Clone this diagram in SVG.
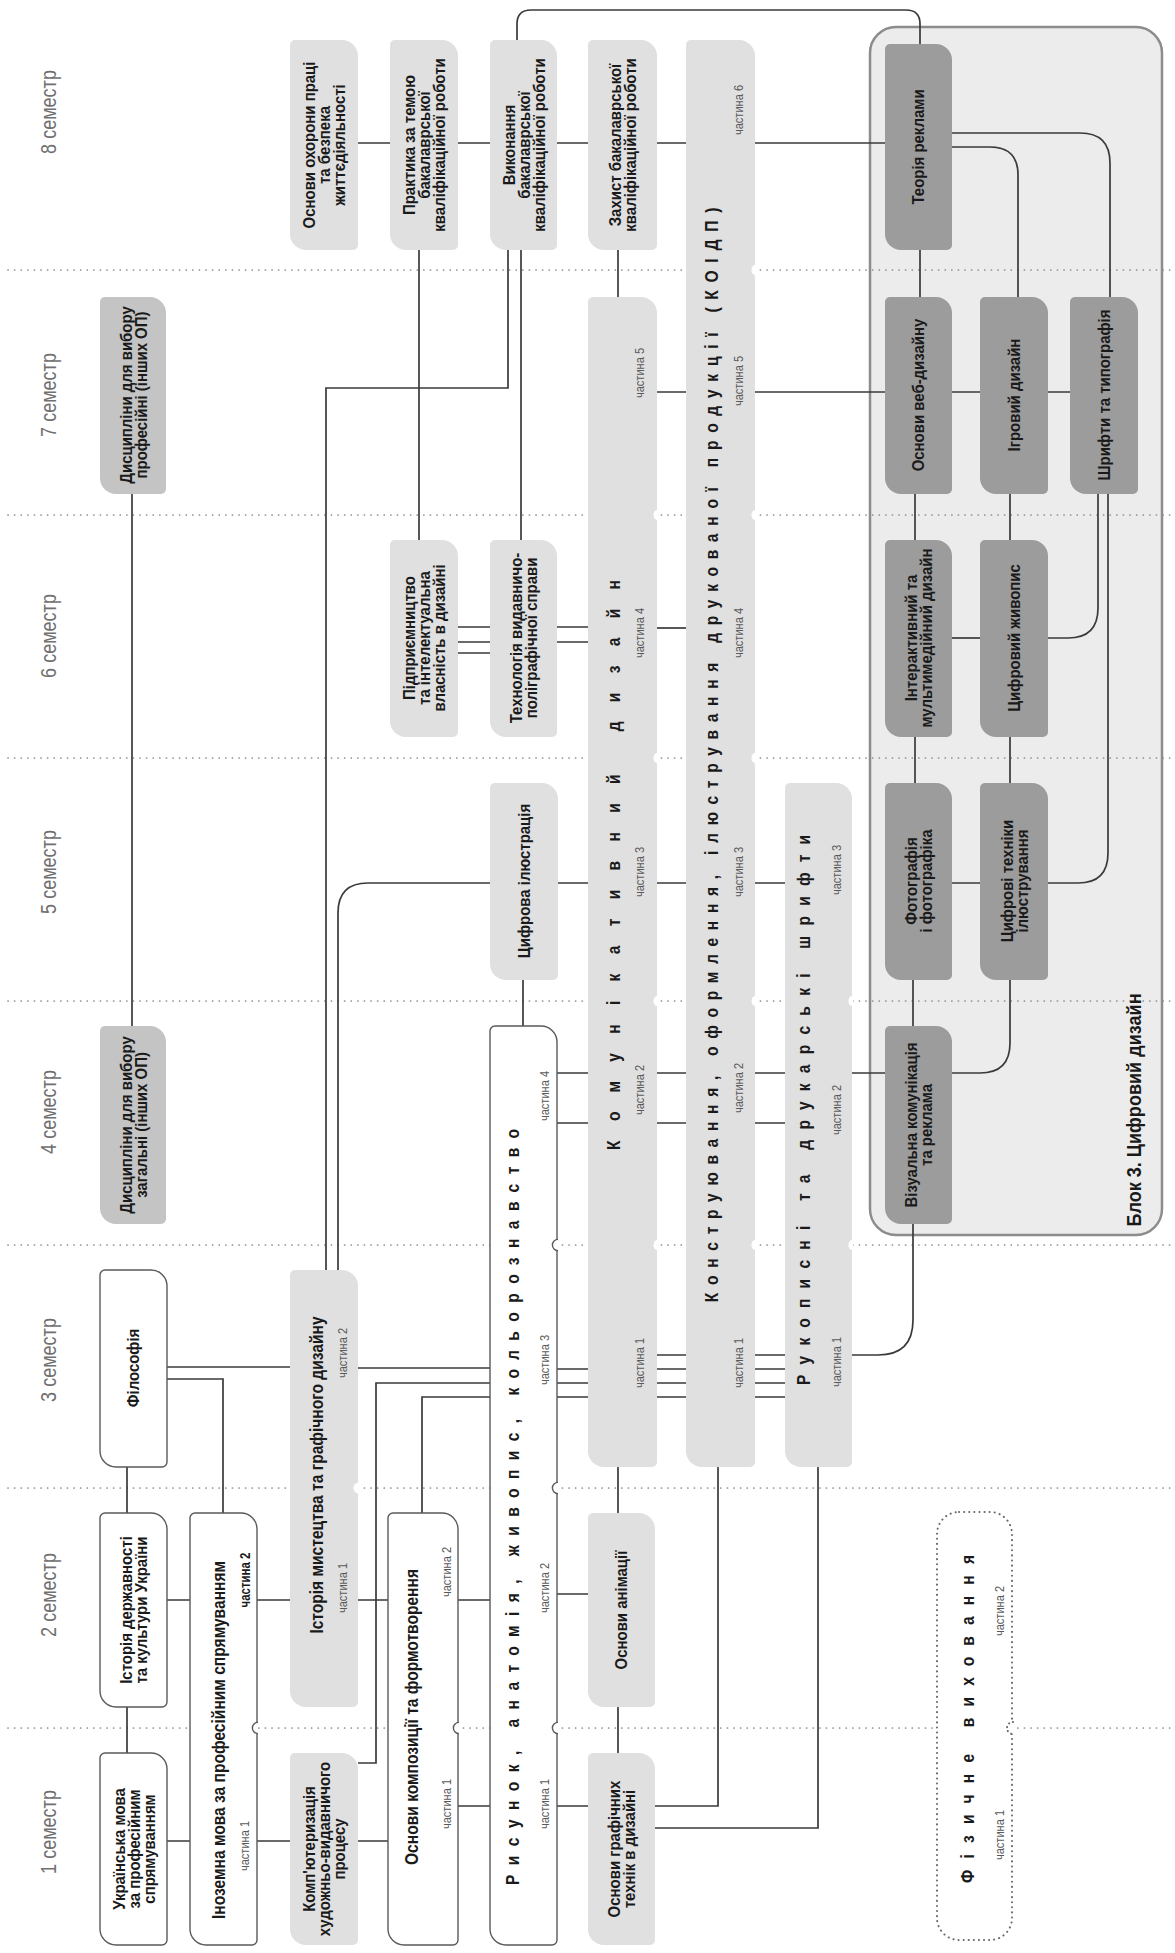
<svg xmlns="http://www.w3.org/2000/svg" width="1175" height="1953" viewBox="0 0 1175 1953">
<style>
.sep{stroke:#8a8a8a;stroke-width:1.7;stroke-dasharray:0.1 6.5;stroke-linecap:round;fill:none}
.ln{stroke:#3a3a3a;stroke-width:1.7;fill:none}
.bw{fill:#fff;stroke:#5a5a5a;stroke-width:1.4}
.bl{fill:#e0e0e0}
.bm{fill:#c4c4c4}
.bd{fill:#9c9c9c}
.cont{fill:#ececec;stroke:#8c8c8c;stroke-width:2.5}
.fz{fill:#fff;stroke:#666;stroke-width:2;stroke-dasharray:0.1 5;stroke-linecap:round}
.nt{fill:#fff}
.ntw{fill:#fff;stroke:#5a5a5a;stroke-width:1.4}
.ntf{fill:#fff;stroke:#666;stroke-width:2;stroke-dasharray:0.1 4;stroke-linecap:round}
text{font-family:"Liberation Sans",Arial,sans-serif;text-anchor:middle;dominant-baseline:central}
.t{font-weight:700;font-size:17px;fill:#1a1a1a}
.tt{font-weight:700;font-size:19px;fill:#1a1a1a}
.ls{font-weight:700;font-size:19px;fill:#1a1a1a}
.ch{font-weight:400;font-size:13.5px;fill:#5a5a5a}
.chb{font-weight:700;font-size:14px;fill:#1a1a1a}
.sem{font-weight:400;font-size:22px;fill:#707070}
.blk{font-weight:700;font-size:21px;fill:#1a1a1a}
</style>

<rect id="block3" class="cont" x="870" y="27" width="292" height="1208" rx="26"/>

<g id="separators">
<path class="sep" d="M8,270H1175M8,515H1175M8,758H1175M8,1001H1175M8,1245H1175M8,1488H1175M8,1728H1175"/>
</g>

<g id="semesters">
<text class="sem" transform="translate(48,112) rotate(-90) scale(.82,1)">8 семестр</text>
<text class="sem" transform="translate(48,395) rotate(-90) scale(.82,1)">7 семестр</text>
<text class="sem" transform="translate(48,636) rotate(-90) scale(.82,1)">6 семестр</text>
<text class="sem" transform="translate(48,872) rotate(-90) scale(.82,1)">5 семестр</text>
<text class="sem" transform="translate(48,1112) rotate(-90) scale(.82,1)">4 семестр</text>
<text class="sem" transform="translate(48,1360) rotate(-90) scale(.82,1)">3 семестр</text>
<text class="sem" transform="translate(48,1595) rotate(-90) scale(.82,1)">2 семестр</text>
<text class="sem" transform="translate(48,1832) rotate(-90) scale(.82,1)">1 семестр</text>
</g>

<g id="connectors">
<path class="ln" d="M358,143H390M458,143H490M557,143H588M657,143H686M755,143H885"/>
<path class="ln" d="M419,250V540"/>
<path class="ln" d="M508,250V388H326V1270"/>
<path class="ln" d="M521,250V540"/>
<path class="ln" d="M618,250V297"/>
<path class="ln" d="M517,40V24Q517,10 531,10H906Q920,10 920,24V44"/>
<path class="ln" d="M920,250V297"/>
<path class="ln" d="M952,133H1080Q1110,133 1110,163V297"/>
<path class="ln" d="M952,147H990Q1018,147 1018,175V297"/>
<path class="ln" d="M132,494V1026"/>
<path class="ln" d="M657,392H686M755,392H885M952,392H980M1048,392H1070"/>
<path class="ln" d="M915,494V540M1010,494V540"/>
<path class="ln" d="M1098,494V608Q1098,638 1068,638H1048"/>
<path class="ln" d="M1108,494V853Q1108,883 1078,883H1048"/>
<path class="ln" d="M458,627H490M458,642H490M458,653H490"/>
<path class="ln" d="M557,627H588M557,642H588"/>
<path class="ln" d="M657,628H686"/>
<path class="ln" d="M952,638H980"/>
<path class="ln" d="M915,737V783M1010,737V783"/>
<path class="ln" d="M490,883H368Q338,883 338,913V1270"/>
<path class="ln" d="M558,883H588M657,883H686M755,883H785M952,883H980"/>
<path class="ln" d="M523,980V1026M913,980V1026"/>
<path class="ln" d="M1010,980V1043Q1010,1073 980,1073H952"/>
<path class="ln" d="M557,1073H588M557,1123H588M657,1073H686M657,1123H686M755,1073H785M755,1123H785M852,1073H885"/>
<path class="ln" d="M913,1224V1320Q913,1355 878,1355H852"/>
<path class="ln" d="M167,1367H290"/>
<path class="ln" d="M167,1379H223V1513"/>
<path class="ln" d="M358,1368H490"/>
<path class="ln" d="M358,1763H376V1383H490"/>
<path class="ln" d="M422,1513V1397H490"/>
<path class="ln" d="M557,1369H588M557,1383H588M557,1397H588"/>
<path class="ln" d="M657,1355H686M657,1369H686M657,1383H686M657,1397H686"/>
<path class="ln" d="M755,1355H785M755,1369H785M755,1383H785M755,1397H785"/>
<path class="ln" d="M618,1467V1513M127,1467V1513"/>
<path class="ln" d="M718,1467V1806H655"/>
<path class="ln" d="M818,1467V1828H655"/>
<path class="ln" d="M167,1600H190M257,1600H290M358,1600H388M458,1600H490M557,1594H588"/>
<path class="ln" d="M127,1707V1753M618,1707V1753"/>
<path class="ln" d="M167,1841H190M257,1841H290M358,1841H388M458,1806H490M557,1806H588"/>
</g>

<g id="ohorona"><path class="bl" d="M295,40H342A16,16 0 0 1 358,56V245A5,5 0 0 1 353,250H306A16,16 0 0 1 290,234V45A5,5 0 0 1 295,40Z"/>
<text class="t" transform="translate(324,145) rotate(-90) scale(.88,1)"><tspan x="0" y="-15">Основи охорони праці</tspan><tspan x="0" y="0">та безпека</tspan><tspan x="0" y="15">життєдіяльності</tspan></text></g>

<g id="praktyka"><path class="bl" d="M395,40H442A16,16 0 0 1 458,56V245A5,5 0 0 1 453,250H406A16,16 0 0 1 390,234V45A5,5 0 0 1 395,40Z"/>
<text class="t" transform="translate(424,145) rotate(-90) scale(.88,1)"><tspan x="0" y="-15">Практика за темою</tspan><tspan x="0" y="0">бакалаврської</tspan><tspan x="0" y="15">кваліфікаційної роботи</tspan></text></g>

<g id="vykonannia"><path class="bl" d="M495,40H541A16,16 0 0 1 557,56V245A5,5 0 0 1 552,250H506A16,16 0 0 1 490,234V45A5,5 0 0 1 495,40Z"/>
<text class="t" transform="translate(523.5,145) rotate(-90) scale(.88,1)"><tspan x="0" y="-15">Виконання</tspan><tspan x="0" y="0">бакалаврської</tspan><tspan x="0" y="15">кваліфікаційної роботи</tspan></text></g>

<g id="zakhyst"><path class="bl" d="M593,40H641A16,16 0 0 1 657,56V245A5,5 0 0 1 652,250H604A16,16 0 0 1 588,234V45A5,5 0 0 1 593,40Z"/>
<text class="t" transform="translate(622.5,145) rotate(-90) scale(.88,1)"><tspan x="0" y="-7.5">Захист бакалаврської</tspan><tspan x="0" y="7.5">кваліфікаційної роботи</tspan></text></g>

<g id="koidp"><path class="bl" d="M691,40H739A16,16 0 0 1 755,56V1462A5,5 0 0 1 750,1467H702A16,16 0 0 1 686,1451V45A5,5 0 0 1 691,40Z"/>
<path class="nt" d="M756,264.5A5.6,5.6 0 0 0 756,275.5M756,509.5A5.6,5.6 0 0 0 756,520.5M756,752.5A5.6,5.6 0 0 0 756,763.5M756,995.5A5.6,5.6 0 0 0 756,1006.5M756,1239.5A5.6,5.6 0 0 0 756,1250.5"/>
<text class="ls" transform="translate(711,755) rotate(-90) scale(.82,1)" textLength="1335" lengthAdjust="spacing">Конструювання, оформлення, ілюстрування друкованої продукції (КОІДП)</text>
<text class="ch" transform="translate(739,110) rotate(-90) scale(.82,1)">частина 6</text>
<text class="ch" transform="translate(739,381) rotate(-90) scale(.82,1)">частина 5</text>
<text class="ch" transform="translate(739,633) rotate(-90) scale(.82,1)">частина 4</text>
<text class="ch" transform="translate(739,872) rotate(-90) scale(.82,1)">частина 3</text>
<text class="ch" transform="translate(739,1088) rotate(-90) scale(.82,1)">частина 2</text>
<text class="ch" transform="translate(739,1363) rotate(-90) scale(.82,1)">частина 1</text></g>

<g id="teoria"><path class="bd" d="M890,44H936A16,16 0 0 1 952,60V245A5,5 0 0 1 947,250H901A16,16 0 0 1 885,234V49A5,5 0 0 1 890,44Z"/>
<text class="t" transform="translate(918.5,147) rotate(-90) scale(.88,1)">Теорія реклами</text></g>

<g id="dysc_prof"><path class="bm" d="M105,297H150A16,16 0 0 1 166,313V489A5,5 0 0 1 161,494H116A16,16 0 0 1 100,478V302A5,5 0 0 1 105,297Z"/>
<text class="t" transform="translate(133,395) rotate(-90) scale(.88,1)"><tspan x="0" y="-7.5">Дисципліни для вибору</tspan><tspan x="0" y="7.5">професійні (інших ОП)</tspan></text></g>

<g id="komunik"><path class="bl" d="M593,297H641A16,16 0 0 1 657,313V1462A5,5 0 0 1 652,1467H604A16,16 0 0 1 588,1451V302A5,5 0 0 1 593,297Z"/>
<path class="nt" d="M658,509.5A5.6,5.6 0 0 0 658,520.5M658,752.5A5.6,5.6 0 0 0 658,763.5M658,995.5A5.6,5.6 0 0 0 658,1006.5M658,1239.5A5.6,5.6 0 0 0 658,1250.5"/>
<text class="ls" transform="translate(613,865) rotate(-90) scale(.82,1)" textLength="695" lengthAdjust="spacing">Комунікативний дизайн</text>
<text class="ch" transform="translate(640,373) rotate(-90) scale(.82,1)">частина 5</text>
<text class="ch" transform="translate(640,633) rotate(-90) scale(.82,1)">частина 4</text>
<text class="ch" transform="translate(640,872) rotate(-90) scale(.82,1)">частина 3</text>
<text class="ch" transform="translate(640,1090) rotate(-90) scale(.82,1)">частина 2</text>
<text class="ch" transform="translate(640,1363) rotate(-90) scale(.82,1)">частина 1</text></g>

<g id="veb"><path class="bd" d="M890,297H936A16,16 0 0 1 952,313V489A5,5 0 0 1 947,494H901A16,16 0 0 1 885,478V302A5,5 0 0 1 890,297Z"/>
<text class="t" transform="translate(918.5,395) rotate(-90) scale(.88,1)">Основи веб-дизайну</text></g>

<g id="igrovyi"><path class="bd" d="M985,297H1032A16,16 0 0 1 1048,313V489A5,5 0 0 1 1043,494H996A16,16 0 0 1 980,478V302A5,5 0 0 1 985,297Z"/>
<text class="t" transform="translate(1014,395) rotate(-90) scale(.88,1)">Ігровий дизайн</text></g>

<g id="shryfty"><path class="bd" d="M1075,297H1122A16,16 0 0 1 1138,313V489A5,5 0 0 1 1133,494H1086A16,16 0 0 1 1070,478V302A5,5 0 0 1 1075,297Z"/>
<text class="t" transform="translate(1104,395) rotate(-90) scale(.88,1)">Шрифти та типографія</text></g>

<g id="pidpryiem"><path class="bl" d="M395,540H442A16,16 0 0 1 458,556V732A5,5 0 0 1 453,737H406A16,16 0 0 1 390,721V545A5,5 0 0 1 395,540Z"/>
<text class="t" transform="translate(424,638) rotate(-90) scale(.88,1)"><tspan x="0" y="-15">Підприємництво</tspan><tspan x="0" y="0">та інтелектуальна</tspan><tspan x="0" y="15">власність в дизайні</tspan></text></g>

<g id="tekhnol"><path class="bl" d="M495,540H541A16,16 0 0 1 557,556V732A5,5 0 0 1 552,737H506A16,16 0 0 1 490,721V545A5,5 0 0 1 495,540Z"/>
<text class="t" transform="translate(523.5,638) rotate(-90) scale(.88,1)"><tspan x="0" y="-7.5">Технологія видавничо-</tspan><tspan x="0" y="7.5">поліграфічної справи</tspan></text></g>

<g id="interakt"><path class="bd" d="M890,540H936A16,16 0 0 1 952,556V732A5,5 0 0 1 947,737H901A16,16 0 0 1 885,721V545A5,5 0 0 1 890,540Z"/>
<text class="t" transform="translate(918.5,638) rotate(-90) scale(.88,1)"><tspan x="0" y="-7.5">Інтерактивний та</tspan><tspan x="0" y="7.5">мультимедійний дизайн</tspan></text></g>

<g id="zhyvopys"><path class="bd" d="M985,540H1032A16,16 0 0 1 1048,556V732A5,5 0 0 1 1043,737H996A16,16 0 0 1 980,721V545A5,5 0 0 1 985,540Z"/>
<text class="t" transform="translate(1014,638) rotate(-90) scale(.88,1)">Цифровий живопис</text></g>

<g id="tsyfr_ilustr"><path class="bl" d="M495,783H542A16,16 0 0 1 558,799V975A5,5 0 0 1 553,980H506A16,16 0 0 1 490,964V788A5,5 0 0 1 495,783Z"/>
<text class="t" transform="translate(524,881) rotate(-90) scale(.88,1)">Цифрова ілюстрація</text></g>

<g id="rukopysni"><path class="bl" d="M790,783H836A16,16 0 0 1 852,799V1462A5,5 0 0 1 847,1467H801A16,16 0 0 1 785,1451V788A5,5 0 0 1 790,783Z"/>
<path class="nt" d="M853,995.5A5.6,5.6 0 0 0 853,1006.5M853,1239.5A5.6,5.6 0 0 0 853,1250.5"/>
<text class="ls" transform="translate(803,1110) rotate(-90) scale(.82,1)" textLength="671" lengthAdjust="spacing">Рукописні та друкарські шрифти</text>
<text class="ch" transform="translate(837,870) rotate(-90) scale(.82,1)">частина 3</text>
<text class="ch" transform="translate(837,1110) rotate(-90) scale(.82,1)">частина 2</text>
<text class="ch" transform="translate(837,1362) rotate(-90) scale(.82,1)">частина 1</text></g>

<g id="foto"><path class="bd" d="M890,783H936A16,16 0 0 1 952,799V975A5,5 0 0 1 947,980H901A16,16 0 0 1 885,964V788A5,5 0 0 1 890,783Z"/>
<text class="t" transform="translate(918.5,881) rotate(-90) scale(.88,1)"><tspan x="0" y="-7.5">Фотографія</tspan><tspan x="0" y="7.5">і фотографіка</tspan></text></g>

<g id="tekhniky"><path class="bd" d="M985,783H1032A16,16 0 0 1 1048,799V975A5,5 0 0 1 1043,980H996A16,16 0 0 1 980,964V788A5,5 0 0 1 985,783Z"/>
<text class="t" transform="translate(1014,881) rotate(-90) scale(.88,1)"><tspan x="0" y="-7.5">Цифрові техніки</tspan><tspan x="0" y="7.5">ілюстрування</tspan></text></g>

<g id="dysc_zag"><path class="bm" d="M105,1026H150A16,16 0 0 1 166,1042V1219A5,5 0 0 1 161,1224H116A16,16 0 0 1 100,1208V1031A5,5 0 0 1 105,1026Z"/>
<text class="t" transform="translate(133,1125) rotate(-90) scale(.88,1)"><tspan x="0" y="-7.5">Дисципліни для вибору</tspan><tspan x="0" y="7.5">загальні (інших ОП)</tspan></text></g>

<g id="rysunok"><path class="bw" d="M495,1026H541A16,16 0 0 1 557,1042V1940A5,5 0 0 1 552,1945H506A16,16 0 0 1 490,1929V1031A5,5 0 0 1 495,1026Z"/>
<path class="ntw" d="M558,1239.4A5.6,5.6 0 0 0 558,1250.6M558,1482.4A5.6,5.6 0 0 0 558,1493.6M558,1722.4A5.6,5.6 0 0 0 558,1733.6"/>
<text class="ls" transform="translate(512,1507) rotate(-90) scale(.82,1)" textLength="922" lengthAdjust="spacing">Рисунок, анатомія, живопис, кольорознавство</text>
<text class="ch" transform="translate(545,1096) rotate(-90) scale(.82,1)">частина 4</text>
<text class="ch" transform="translate(545,1360) rotate(-90) scale(.82,1)">частина 3</text>
<text class="ch" transform="translate(545,1588) rotate(-90) scale(.82,1)">частина 2</text>
<text class="ch" transform="translate(545,1804) rotate(-90) scale(.82,1)">частина 1</text></g>

<g id="vizualna"><path class="bd" d="M890,1026H936A16,16 0 0 1 952,1042V1219A5,5 0 0 1 947,1224H901A16,16 0 0 1 885,1208V1031A5,5 0 0 1 890,1026Z"/>
<text class="t" transform="translate(918.5,1125) rotate(-90) scale(.88,1)"><tspan x="0" y="-7.5">Візуальна комунікація</tspan><tspan x="0" y="7.5">та реклама</tspan></text></g>

<g id="filosofia"><path class="bw" d="M105,1270H151A16,16 0 0 1 167,1286V1462A5,5 0 0 1 162,1467H116A16,16 0 0 1 100,1451V1275A5,5 0 0 1 105,1270Z"/>
<text class="t" transform="translate(133.5,1368) rotate(-90) scale(.88,1)">Філософія</text></g>

<g id="istoria_myst"><path class="bl" d="M295,1270H342A16,16 0 0 1 358,1286V1702A5,5 0 0 1 353,1707H306A16,16 0 0 1 290,1691V1275A5,5 0 0 1 295,1270Z"/>
<path class="nt" d="M359,1482.4A5.6,5.6 0 0 0 359,1493.6"/>
<text class="tt" transform="translate(316,1475) rotate(-90) scale(.82,1)">Історія мистецтва та графічного дизайну</text>
<text class="ch" transform="translate(343,1353) rotate(-90) scale(.82,1)">частина 2</text>
<text class="ch" transform="translate(343,1588) rotate(-90) scale(.82,1)">частина 1</text></g>

<g id="istoria_derzh"><path class="bw" d="M105,1513H151A16,16 0 0 1 167,1529V1702A5,5 0 0 1 162,1707H116A16,16 0 0 1 100,1691V1518A5,5 0 0 1 105,1513Z"/>
<text class="t" transform="translate(133.5,1610) rotate(-90) scale(.88,1)"><tspan x="0" y="-7.5">Історія державності</tspan><tspan x="0" y="7.5">та культури України</tspan></text></g>

<g id="inozemna"><path class="bw" d="M195,1513H241A16,16 0 0 1 257,1529V1940A5,5 0 0 1 252,1945H206A16,16 0 0 1 190,1929V1518A5,5 0 0 1 195,1513Z"/>
<path class="ntw" d="M258,1722.4A5.6,5.6 0 0 0 258,1733.6"/>
<text class="tt" transform="translate(218,1740) rotate(-90) scale(.82,1)">Іноземна мова за професійним спрямуванням</text>
<text class="chb" transform="translate(245,1580) rotate(-90) scale(.82,1)">частина 2</text>
<text class="ch" transform="translate(245,1846) rotate(-90) scale(.82,1)">частина 1</text></g>

<g id="kompozytsia"><path class="bw" d="M393,1513H442A16,16 0 0 1 458,1529V1940A5,5 0 0 1 453,1945H404A16,16 0 0 1 388,1929V1518A5,5 0 0 1 393,1513Z"/>
<path class="ntw" d="M459,1722.4A5.6,5.6 0 0 0 459,1733.6"/>
<text class="tt" transform="translate(411,1717) rotate(-90) scale(.82,1)">Основи композиції та формотворення</text>
<text class="ch" transform="translate(447,1572) rotate(-90) scale(.82,1)">частина 2</text>
<text class="ch" transform="translate(447,1804) rotate(-90) scale(.82,1)">частина 1</text></g>

<g id="animatsia"><path class="bl" d="M593,1513H639A16,16 0 0 1 655,1529V1702A5,5 0 0 1 650,1707H604A16,16 0 0 1 588,1691V1518A5,5 0 0 1 593,1513Z"/>
<text class="t" transform="translate(621.5,1610) rotate(-90) scale(.88,1)">Основи анімації</text></g>

<g id="fizychne"><rect class="fz" x="937" y="1512" width="75" height="428" rx="22"/>
<path class="ntf" d="M1013,1722A6,6 0 0 0 1013,1734"/>
<text class="ls" transform="translate(967,1719) rotate(-90) scale(.82,1)" textLength="400" lengthAdjust="spacing">Фізичне виховання</text>
<text class="ch" transform="translate(1000,1611) rotate(-90) scale(.82,1)">частина 2</text>
<text class="ch" transform="translate(1000,1835) rotate(-90) scale(.82,1)">частина 1</text></g>

<g id="ukr_mova"><path class="bw" d="M105,1753H151A16,16 0 0 1 167,1769V1940A5,5 0 0 1 162,1945H116A16,16 0 0 1 100,1929V1758A5,5 0 0 1 105,1753Z"/>
<text class="t" transform="translate(133.5,1849) rotate(-90) scale(.88,1)"><tspan x="0" y="-15">Українська мова</tspan><tspan x="0" y="0">за професійним</tspan><tspan x="0" y="15">спрямуванням</tspan></text></g>

<g id="kompiut"><path class="bl" d="M295,1753H342A16,16 0 0 1 358,1769V1940A5,5 0 0 1 353,1945H306A16,16 0 0 1 290,1929V1758A5,5 0 0 1 295,1753Z"/>
<text class="t" transform="translate(324,1849) rotate(-90) scale(.88,1)"><tspan x="0" y="-15">Комп'ютеризація</tspan><tspan x="0" y="0">художньо-видавничого</tspan><tspan x="0" y="15">процесу</tspan></text></g>

<g id="grafichni"><path class="bl" d="M593,1753H639A16,16 0 0 1 655,1769V1940A5,5 0 0 1 650,1945H604A16,16 0 0 1 588,1929V1758A5,5 0 0 1 593,1753Z"/>
<text class="t" transform="translate(621.5,1849) rotate(-90) scale(.88,1)"><tspan x="0" y="-7.5">Основи графічних</tspan><tspan x="0" y="7.5">технік в дизайні</tspan></text></g>

<text id="block3_label" class="blk" transform="translate(1133,1110) rotate(-90) scale(.86,1)">Блок 3. Цифровий дизайн</text>
</svg>
